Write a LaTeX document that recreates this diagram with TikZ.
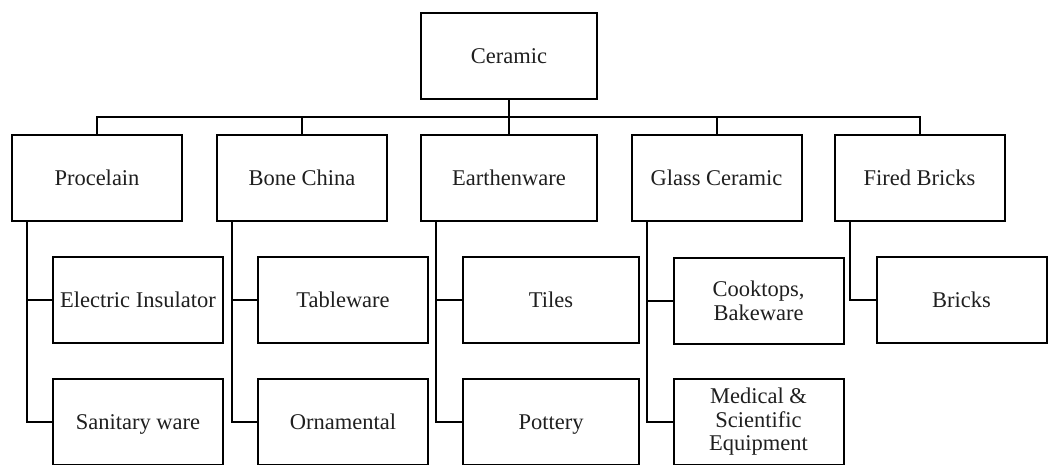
\documentclass[tikz,border=0pt]{standalone}
\usepackage{fontspec}
\setmainfont{Liberation Serif}
\usetikzlibrary{calc}
\begin{document}
\begin{tikzpicture}[x=1pt,y=-1pt,
  box/.style={draw=black,line width=2pt,minimum width=170pt,minimum height=86pt,
    inner sep=0pt,align=center,font=\fontsize{22.5}{23.5}\selectfont,text=black!88},
  one/.style={text height=17.5pt,text depth=2.5pt},
  wbox/.style={box,minimum width=176pt},
  link/.style={draw=black,line width=2pt}]
\useasboundingbox (0,0) rectangle (1052,464);
\node[wbox,one] (ceramic) at (509,56) {Ceramic};
\node[box,one] (porc) at (97,178) {Procelain};
\node[box,one] (bone) at (302,178) {Bone China};
\node[wbox,one] (earth) at (509,178) {Earthenware};
\node[box,one] (glass) at (716.5,178) {Glass Ceramic};
\node[box,one] (fired) at (919.5,178) {Fired Bricks};
\node[box,one] (elec) at (138,300) {Electric Insulator};
\node[box,one] (sanit) at (138,422) {Sanitary ware};
\node[box,one] (table) at (343,300) {Tableware};
\node[box,one] (orna) at (343,422) {Ornamental};
\node[wbox,one] (tiles) at (551,300) {Tiles};
\node[wbox,one] (pot) at (551,422) {Pottery};
\node[box] (cook) at (758.5,301) {Cooktops,\\Bakeware};
\node[box] (med) at (758.5,422) {Medical \&\\Scientific\\Equipment};
\node[box,one] (bricks) at (961.5,300) {Bricks};
\coordinate (bus) at (0,117);
\draw[link,line width=2.6pt] (ceramic.south) -- (ceramic.south |- bus);
\draw[link] (porc.north) -- (porc.north |- bus) -- (fired.north |- bus) -- (fired.north);
\draw[link] (bone.north) -- (bone.north |- bus);
\draw[link] (earth.north) -- (earth.north |- bus);
\draw[link] (glass.north) -- (glass.north |- bus);
\coordinate (pl) at ($(porc.south west)+(16,0)$);
\coordinate (bl) at ($(bone.south west)+(16,0)$);
\coordinate (el) at ($(earth.south west)+(16,0)$);
\coordinate (gl) at ($(glass.south west)+(16,0)$);
\coordinate (fl) at ($(fired.south west)+(16,0)$);
\draw[link] (pl) |- (sanit.west);
\draw[link] (pl |- elec.west) -- (elec.west);
\draw[link] (bl) |- (orna.west);
\draw[link] (bl |- table.west) -- (table.west);
\draw[link] (el) |- (pot.west);
\draw[link] (el |- tiles.west) -- (tiles.west);
\draw[link] (gl) |- (med.west);
\draw[link] (gl |- cook.west) -- (cook.west);
\draw[link] (fl) |- (bricks.west);
\end{tikzpicture}
\end{document}
